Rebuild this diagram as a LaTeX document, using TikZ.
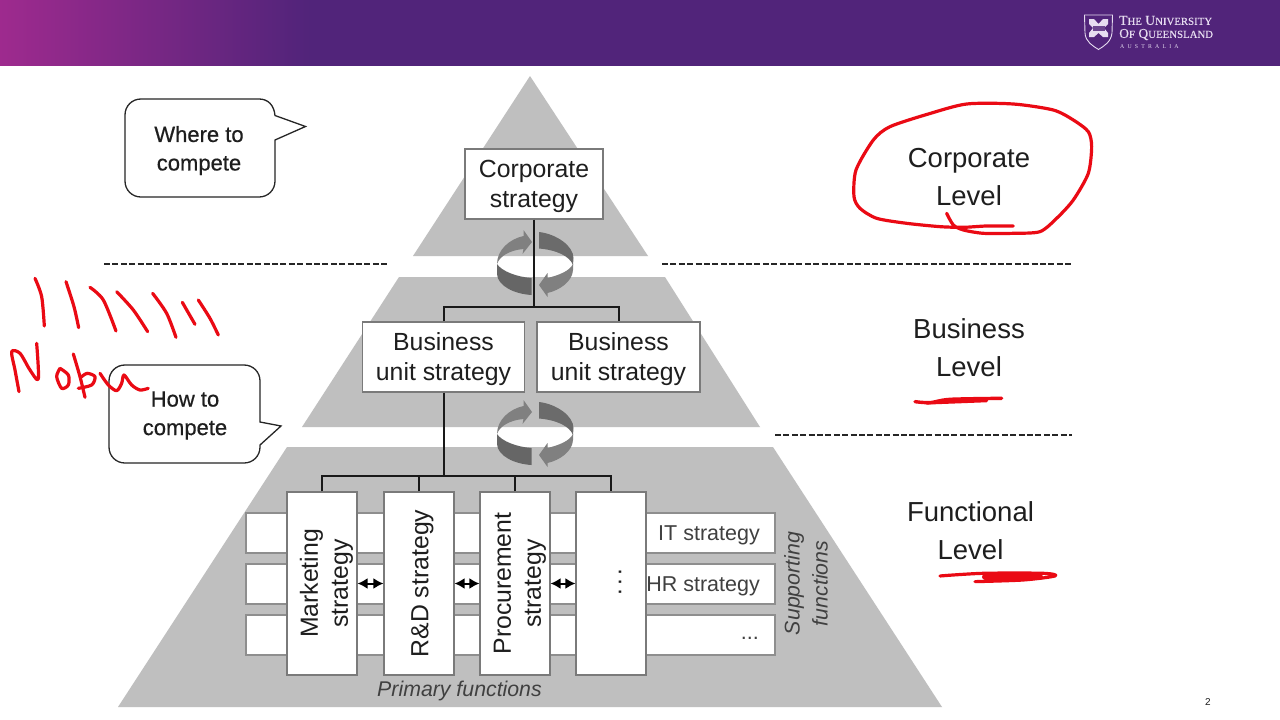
\documentclass[tikz,border=0pt]{standalone}
\usepackage{fontspec}
\setmainfont{Liberation Sans}
\newfontfamily\logofont{Liberation Serif}
\usetikzlibrary{arrows.meta}
\definecolor{pyr}{HTML}{BFBFBF}
\definecolor{ink}{HTML}{EA0A14}
\definecolor{uqpurple}{HTML}{51247A}
\definecolor{uqpink}{HTML}{9E2A8E}
\definecolor{edgegrey}{HTML}{7A7A7A}
\definecolor{txt}{HTML}{1E1E1E}
\definecolor{logotxt}{HTML}{E6DCF0}
\tikzset{
  pyramid/.style={fill=pyr,draw=none},
  whitebox/.style={draw=edgegrey,line width=1.1pt,fill=white,text=txt,align=center,inner sep=0pt,font=\fontsize{24.8}{30}\selectfont},
  rowbox/.style={draw=edgegrey!85!white,line width=1.1pt,fill=white},
  colbox/.style={whitebox,rotate=90,minimum width=183pt,minimum height=70pt},
  levellabel/.style={text=txt,align=center,inner sep=0pt,font=\fontsize{27.5}{38}\selectfont},
  calloutlabel/.style={text=txt,align=center,inner sep=0pt,font=\fontsize{22}{28.5}\selectfont\addfontfeature{FakeBold=0.6}},
  rowlabel/.style={text=txt!85!white,inner sep=0pt,anchor=east,font=\fontsize{21.5}{26}\selectfont},
  italiclabel/.style={text=txt!85!white,inner sep=0pt,align=center,font=\fontsize{21.3}{28}\selectfont\itshape},
  callout/.style={draw=black!85,line width=1.3pt,fill=white},
  tree/.style={draw=black!90,line width=2pt},
  dashline/.style={draw=black!85,line width=2.6pt,dash pattern=on 6pt off 2.4pt},
  twoway/.style={{Latex[length=10pt,width=11pt]}-{Latex[length=10pt,width=11pt]},draw=black,line width=2pt,shorten <=0pt,shorten >=0pt},
  scribble/.style={draw=ink,line width=3.2pt,line cap=round,line join=round},
  zoomed/.style={x=0.3333pt,y=-0.3333pt}
}
\newcommand{\padb}{\rule{0pt}{22pt}}
\newcommand{\padc}{\rule{0pt}{27pt}}
\newcommand{\padd}{\rule{0pt}{24pt}}
\newcommand{\inkline}[1]{\draw[scribble] plot[smooth,tension=0.5] coordinates {#1};}
\newcommand{\cyclemark}[1]{%
  \begin{scope}[shift={(534.5,#1)}]
    \fill[black!50] (-37.5,0) .. controls (-37.5,-14) and (-25,-25) .. (-11,-28) -- (-11,-34) -- (-2.5,-22) -- (-12,-10) -- (-11,-15) .. controls (-24,-14) and (-35,-8) .. (-37.5,0) -- cycle;
    \fill[black!58] (4.5,-32) .. controls (22,-30) and (39,-18) .. (39,-6) -- (38.5,1) .. controls (35,-8) and (22,-14) .. (4.5,-15.5) -- cycle;
    \fill[black!60] (-37.5,0) .. controls (-33,7) and (-18,13) .. (-3,14) -- (-3,31) .. controls (-20,30) and (-37,22) .. (-37.5,10) -- cycle;
    \fill[black!50] (38.5,0) -- (38.5,6) .. controls (38,17) and (26,26) .. (13,29) -- (13,33) -- (4.5,21) -- (13,9) -- (13,14) .. controls (25,11) and (35,7) .. (38.5,0) -- cycle;
  \end{scope}%
}
\begin{document}
\begin{tikzpicture}[x=1pt,y=-1pt]
\useasboundingbox (0,0) rectangle (1280,720);
% header
\shade[left color=uqpink,right color=uqpurple,shading angle=90,draw=none] (0,0) rectangle (310,67);
\fill[uqpurple] (309,0) rectangle (1280,67);
\fill[white] (0,66) rectangle (1280,720);
% logo
\draw[logotxt,line width=0.9pt,fill=uqpurple] (1084.5,15) -- (1112.5,15) -- (1112,33) .. controls (1111,42) and (1104,46) .. (1098.5,49.5) .. controls (1093,46) and (1085.5,42) .. (1085,33) -- cycle;
\fill[logotxt] (1089,19) -- (1094,19) -- (1098.5,24) -- (1103,19) -- (1108,19) -- (1108,24) -- (1104,28) -- (1108,33) -- (1108,37) -- (1103,37) -- (1098.5,33) -- (1094,37) -- (1089,37) -- (1089,33) -- (1093,28) -- (1089,24) -- cycle;
\fill[uqpurple!85!white] (1092.5,26) rectangle (1104.5,31);
\node[text=logotxt,inner sep=0pt,anchor=west] (logoa) at (1119,20.5) {\logofont\addfontfeature{FakeBold=0.3}\fontsize{13.6}{14}\selectfont T{\fontsize{10.8}{14}\selectfont HE} U{\fontsize{10.8}{14}\selectfont NIVERSITY}};
\node[text=logotxt,inner sep=0pt,anchor=west] (logob) at (1119,34.5) {\logofont\addfontfeature{FakeBold=0.3}\fontsize{13.6}{14}\selectfont O{\fontsize{10.8}{14}\selectfont F} Q{\fontsize{10.8}{14}\selectfont UEENSLAND}};
\node[text=logotxt,inner sep=0pt,anchor=west] (logoc) at (1120,46.5) {\logofont\addfontfeature{LetterSpace=55}\fontsize{5.8}{6}\selectfont AUSTRALIA};
% pyramid
\fill[pyramid] (530,76) -- (648,256) -- (413,256) -- cycle;
\fill[pyramid] (399,277) -- (665,277) -- (760,427) -- (302,427) -- cycle;
\fill[pyramid] (287,447) -- (773,447) -- (942,707) -- (118,707) -- cycle;
% cycles
\cyclemark{264}
\cyclemark{434}
% dashes
\coordinate (d1a) at (104,264); \coordinate (d1b) at (388,264);
\coordinate (d2a) at (662,264); \coordinate (d2b) at (1072,264);
\coordinate (d3a) at (775,435); \coordinate (d3b) at (1072,435);
\draw[dashline] (d1a) -- (d1b);
\draw[dashline] (d2a) -- (d2b);
\draw[dashline] (d3a) -- (d3b);
% rows
\draw[rowbox] (246,513) rectangle (775,553);
\draw[rowbox] (246,564) rectangle (775,604);
\draw[rowbox] (246,615) rectangle (775,655);
\node[rowlabel] (it) at (760,535) {IT strategy};
\node[rowlabel] (hr) at (760,586) {HR strategy};
\node[rowlabel] (more) at (759,638.5) {...};
\coordinate (ar) at (370,583.5);
% boxes
\node[whitebox,minimum width=138pt,minimum height=70pt] (corp) at (534,184) {\padb Corporate\\strategy};
\node[whitebox,minimum width=162pt,minimum height=70pt] (bu1) at (443.5,357) {\padb Business\\unit strategy};
\node[whitebox,minimum width=163pt,minimum height=70pt] (bu2) at (618.5,357) {\padb Business\\unit strategy};
\node[colbox] (mk) at (322,583.5) {\padc Marketing\\strategy};
\node[colbox] (rd) at (419,583.5) {\padd R\&D strategy};
\node[colbox] (pc) at (515,583.5) {\padc Procurement\\strategy};
\node[colbox] (dd) at (611,583.5) {\hspace{0pt}};
\node[rotate=90,inner sep=0pt,text=txt] (dots) at (620,582) {\fontsize{24}{24}\selectfont .\hspace{3pt}.\hspace{3pt}.};
% tree
\coordinate (j1) at (534,307);
\coordinate (j2) at (443.5,476);
\draw[tree] (corp.south -| j1) -- (j1);
\draw[tree] (bu1.north) |- (j1) -| (bu2.north);
\draw[tree] (bu1.south) -- (j2);
\draw[tree] (mk.east) |- (j2) -| (dd.east);
\draw[tree] (rd.east) -- (rd.east |- j2);
\draw[tree] (pc.east) -- (pc.east |- j2);
% double arrows
\draw[twoway] (mk.south |- ar) -- (rd.north |- ar);
\draw[twoway] (rd.south |- ar) -- (pc.north |- ar);
\draw[twoway] (pc.south |- ar) -- (dd.north |- ar);
% italic labels
\node[italiclabel] (prim) at (459.5,690.5) {Primary functions};
\node[italiclabel,rotate=90] (supp) at (806,583.5) {Supporting\\functions};
% callouts
\draw[callout] (141,99) -- (259,99) .. controls (268,99) and (274,105) .. (275,115.5) -- (305.5,126.5) -- (275,140) -- (275,181) .. controls (275,190) and (268,197) .. (259,197) -- (141,197) .. controls (132,197) and (125,190) .. (125,181) -- (125,115) .. controls (125,106) and (132,99) .. (141,99) -- cycle;
\node[calloutlabel] (where) at (199,150.5) {Where to\\compete};
\draw[callout] (125,365) -- (244,365) .. controls (253,365) and (260,372) .. (260,381) -- (260,422) -- (281,426) -- (260,445) -- (260,447) .. controls (260,456) and (253,463) .. (244,463) -- (125,463) .. controls (116,463) and (109,456) .. (109,447) -- (109,381) .. controls (109,372) and (116,365) .. (125,365) -- cycle;
\node[calloutlabel] (how) at (185,415.5) {How to\\compete};
% levels
\node[levellabel] (lc) at (969,177) {Corporate\\Level};
\node[levellabel] (lb) at (969,348) {Business\\Level};
\node[levellabel] (lf) at (970.5,531) {Functional\\Level};
% page number
\node[inner sep=0pt,text=txt] (pg) at (1208,702) {\fontsize{10}{10}\selectfont 2};
% ink: ellipse
\begin{scope}[shift={(840,90)},zoomed]
\draw[scribble] plot[smooth,tension=0.45] coordinates {(520,408) (440,408) (370,412) (300,410) (200,400) (110,385) (60,355) (42,320) (48,240) (100,150) (150,110) (265,72) (380,42) (520,42) (640,60) (700,90) (745,125) (755,170) (745,250) (700,330) (650,385) (600,425) (520,430) (430,430) (370,420) (340,405) (320,370)};
\end{scope}
% ink: tally and name
\begin{scope}[shift={(0,260)},zoomed]
\inkline{(105,55) (125,110) (133,198)}
\inkline{(198,65) (222,140) (236,203)}
\inkline{(270,82) (310,120) (348,213)}
\inkline{(350,95) (400,150) (443,215)}
\inkline{(458,100) (500,160) (528,232)}
\inkline{(547,127) (585,193)}
\inkline{(595,120) (630,175) (655,225)}
\inkline{(57,395) (45,330) (35,275) (60,280) (90,330) (115,357) (110,250)}
\inkline{(180,325) (170,350) (185,385) (205,375) (205,345) (180,325)}
\inkline{(220,282) (240,350) (255,412)}
\inkline{(235,385) (275,375) (285,350) (262,340) (245,350)}
\inkline{(300,340) (325,375) (350,392) (365,370) (372,345) (395,375) (420,390) (445,385)}
\end{scope}
% ink: underlines
\begin{scope}[shift={(890,300)},zoomed]
\draw[scribble,line width=3.4pt] plot[smooth,tension=0.5] coordinates {(75,305) (120,308) (180,298) (335,295)};
\draw[scribble] (110,309) -- (290,302);
\draw[scribble] plot[smooth,tension=0.5] coordinates {(150,828) (280,820) (460,820) (495,828) (400,840) (255,845)};
\draw[scribble,line width=6pt] (285,830) -- (450,830);
\end{scope}
\end{tikzpicture}
\end{document}
